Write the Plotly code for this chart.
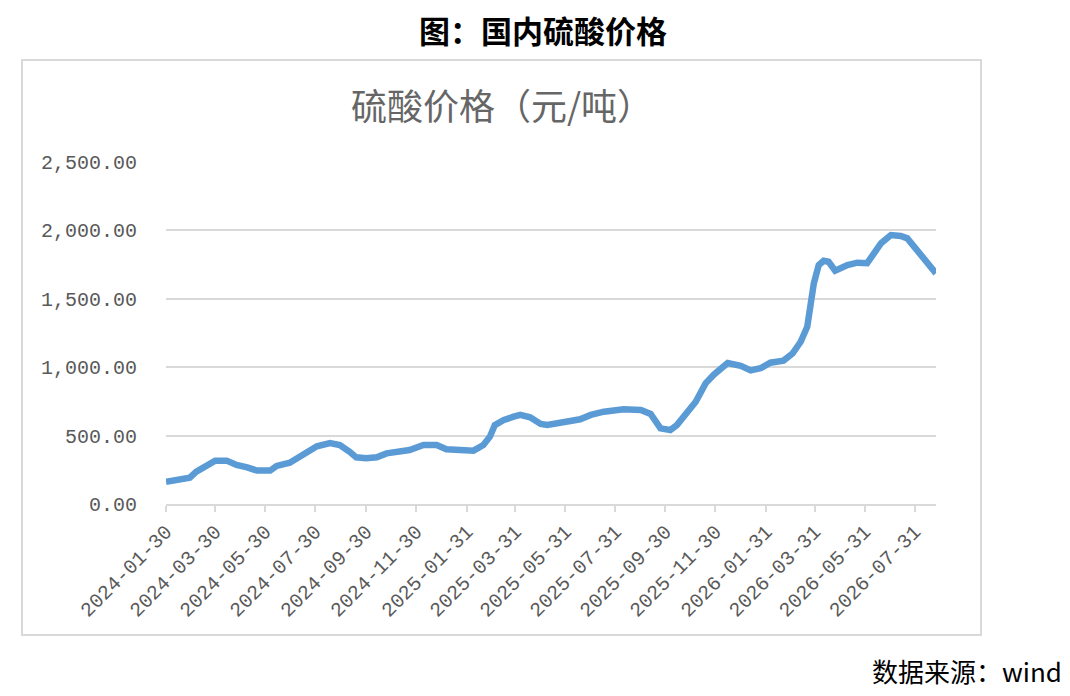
import plotly.graph_objects as go

# ---- data ----
dates = [
    "2024-01-30", "2024-02-16", "2024-02-28", "2024-03-07", "2024-03-20", "2024-03-30",
    "2024-04-13", "2024-04-25", "2024-05-08", "2024-05-20", "2024-06-05", "2024-06-13",
    "2024-06-29", "2024-07-16", "2024-08-01", "2024-08-17", "2024-08-29", "2024-09-10",
    "2024-09-18", "2024-09-30", "2024-10-13", "2024-10-25", "2024-11-10", "2024-11-22",
    "2024-12-09", "2024-12-25", "2025-01-06", "2025-01-22", "2025-02-08", "2025-02-20",
    "2025-02-28", "2025-03-06", "2025-03-17", "2025-03-29", "2025-04-06", "2025-04-18",
    "2025-05-01", "2025-05-09", "2025-05-21", "2025-06-06", "2025-06-18", "2025-07-01",
    "2025-07-17", "2025-08-02", "2025-08-10", "2025-08-31", "2025-09-12", "2025-09-24",
    "2025-10-06", "2025-10-14", "2025-10-27", "2025-11-06", "2025-11-18", "2025-11-28",
    "2025-12-15", "2025-12-31", "2026-01-12", "2026-01-24", "2026-02-05", "2026-02-21",
    "2026-03-04", "2026-03-14", "2026-03-22", "2026-03-26", "2026-03-30", "2026-04-05",
    "2026-04-11", "2026-04-17", "2026-04-25", "2026-05-10", "2026-05-22", "2026-06-03",
    "2026-06-11", "2026-06-20", "2026-07-02", "2026-07-14", "2026-07-22", "2026-07-30",
    "2026-08-05", "2026-08-11", "2026-08-19", "2026-08-26",
]
prices = [
    163, 175, 192, 236, 285, 317,
    317, 285, 268, 244, 244, 278,
    302, 365, 422, 446, 431, 382,
    341, 334, 341, 370, 382, 395,
    431, 431, 400, 395, 390, 431,
    492, 577, 614, 638, 651, 634,
    585, 577, 594, 607, 619, 651,
    675, 682, 692, 687, 658, 553,
    541, 577, 675, 748, 882, 945,
    1030, 1010, 977, 992, 1033, 1048,
    1100, 1186, 1296, 1442, 1613, 1747,
    1778, 1771, 1705, 1747, 1764, 1760,
    1833, 1906, 1966, 1959, 1942, 1881,
    1844, 1784, 1735, 1686,
]
tick_dates = [
    "2024-01-30", "2024-03-30", "2024-05-30", "2024-07-30", "2024-09-30", "2024-11-30",
    "2025-01-31", "2025-03-31", "2025-05-31", "2025-07-31", "2025-09-30", "2025-11-30",
    "2026-01-31", "2026-03-31", "2026-05-31", "2026-07-31",
]
y_ticks = [0, 500, 1000, 1500, 2000, 2500]

main_title = "图：国内硫酸价格"
chart_title = "硫酸价格（元/吨）"
source_text = "数据来源：wind"

# ---- figure ----
fig = go.Figure()
fig.add_trace(go.Scatter(
    x=dates, y=prices, mode="lines",
    line=dict(color="#5B9BD5", width=6.5),
    showlegend=False, hoverinfo="x+y",
))

gray = "#595959"
tick_font = dict(family="Liberation Mono, DejaVu Sans Mono, monospace", size=20, color=gray)

# page offset: the html body adds 8px around the figure
OFF = 8
PL, PR, PT, PB = 166, 936, 162, 504   # plot area in page pixels


def px(xp):
    return (xp - PL) / (PR - PL)


def py(yp):
    return (PB - yp) / (PB - PT)


fig.update_layout(
    width=1070, height=696,
    margin=dict(l=PL - OFF, r=1070 - (PR - OFF), t=PT - OFF, b=696 - (PB - OFF), autoexpand=False),
    paper_bgcolor="white", plot_bgcolor="white",
    font=dict(family="Noto Sans CJK SC", color=gray),
    xaxis=dict(
        type="date",
        range=["2024-01-30", "2026-08-26"],
        tickmode="array", tickvals=tick_dates, ticktext=tick_dates,
        tickangle=-45, tickfont=tick_font,
        showgrid=False, zeroline=False,
        showline=True, linecolor="#D9D9D9", linewidth=2,
        ticks="outside", ticklen=6, tickwidth=2, tickcolor="#D9D9D9",
        fixedrange=True,
    ),
    yaxis=dict(
        range=[0, 2500],
        tickmode="array", tickvals=y_ticks,
        tickformat=",.2f", tickfont=tick_font,
        showgrid=True, gridcolor="#D9D9D9", gridwidth=2,
        zeroline=False, showline=False, ticks="",
        ticklabelstandoff=28,
        fixedrange=True,
    ),
)

# outer chart border
fig.add_shape(type="rect", xref="paper", yref="paper",
              x0=px(22), x1=px(981), y0=py(635), y1=py(60),
              line=dict(color="#D9D9D9", width=2), fillcolor="rgba(0,0,0,0)", layer="below")

fig.add_annotation(text=main_title, xref="paper", yref="paper",
                   x=px(543), y=py(29),
                   xanchor="center", yanchor="middle", showarrow=False,
                   font=dict(family="Noto Sans CJK SC", size=31, color="black", weight="bold"))
fig.add_annotation(text=chart_title, xref="paper", yref="paper",
                   x=px(502), y=py(104),
                   xanchor="center", yanchor="middle", showarrow=False,
                   font=dict(family="Noto Sans CJK SC", size=36, color="#666666"))
fig.add_annotation(text=source_text, xref="paper", yref="paper",
                   x=px(1064), y=py(670),
                   xanchor="right", yanchor="middle", showarrow=False,
                   font=dict(family="Noto Sans CJK SC", size=26, color="black"))

fig.write_html("out.html")
